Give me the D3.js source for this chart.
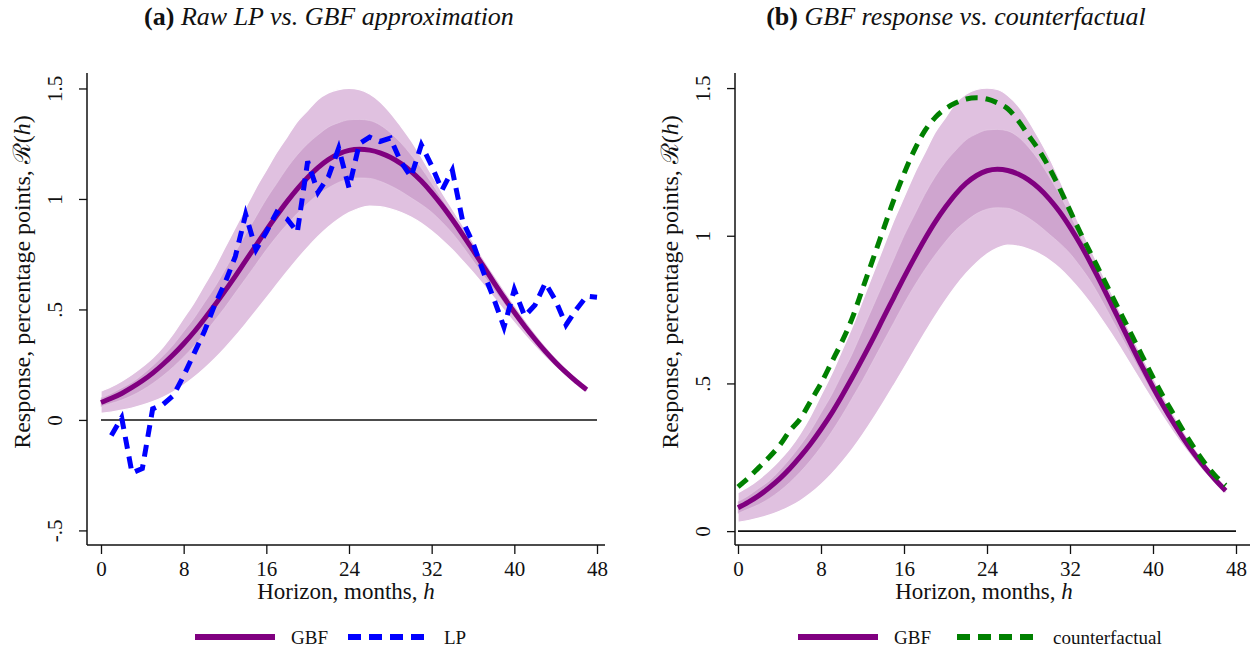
<!DOCTYPE html>
<html>
<head>
<meta charset="utf-8">
<script src="https://cdn.jsdelivr.net/npm/d3@7/dist/d3.min.js"></script>
<style>
  body { margin: 0; background: #fff; }
  text { font-family: "Liberation Serif", "DejaVu Serif", serif; fill: #111; }
</style>
</head>
<body>
<script>
// horizons
var hGBF = d3.range(0, 48);      // 0..47
var hLP = d3.range(1, 49);       // 1..48

// GBF point estimate
var gbf = [0.079, 0.098, 0.120, 0.147, 0.177, 0.212, 0.252, 0.296, 0.345, 0.398,
           0.457, 0.519, 0.584, 0.651, 0.721, 0.790, 0.859, 0.925, 0.988, 1.046,
           1.097, 1.142, 1.178, 1.204, 1.220, 1.225, 1.221, 1.209, 1.189, 1.161,
           1.125, 1.081, 1.029, 0.971, 0.907, 0.839, 0.768, 0.696, 0.624, 0.554,
           0.487, 0.424, 0.365, 0.310, 0.260, 0.215, 0.174, 0.137];

// bands: outer and inner
var outerHi = [0.13, 0.15, 0.175, 0.205, 0.24, 0.28, 0.33, 0.39, 0.46, 0.53,
               0.61, 0.69, 0.78, 0.87, 0.96, 1.05, 1.13, 1.21, 1.28, 1.35,
               1.40, 1.45, 1.48, 1.495, 1.50, 1.495, 1.475, 1.44, 1.39, 1.33,
               1.265, 1.19, 1.11, 1.03, 0.955, 0.88, 0.805, 0.73, 0.658, 0.588,
               0.52, 0.455, 0.393, 0.335, 0.282, 0.233, 0.19, 0.153];
var innerHi = [0.10, 0.12, 0.145, 0.17, 0.205, 0.245, 0.29, 0.34, 0.40, 0.46,
               0.53, 0.60, 0.68, 0.76, 0.84, 0.92, 1.00, 1.07, 1.14, 1.20,
               1.25, 1.29, 1.325, 1.345, 1.358, 1.36, 1.355, 1.335, 1.30, 1.255,
               1.20, 1.14, 1.072, 1.00, 0.93, 0.86, 0.787, 0.714, 0.642, 0.572,
               0.504, 0.44, 0.38, 0.323, 0.271, 0.224, 0.182, 0.145];
var innerLo = [0.06, 0.075, 0.09, 0.11, 0.135, 0.165, 0.20, 0.24, 0.285, 0.335,
               0.39, 0.45, 0.51, 0.575, 0.64, 0.705, 0.77, 0.83, 0.885, 0.935,
               0.98, 1.02, 1.05, 1.075, 1.09, 1.095, 1.093, 1.08, 1.06, 1.035,
               1.005, 0.975, 0.94, 0.895, 0.845, 0.785, 0.72, 0.655, 0.59, 0.526,
               0.464, 0.405, 0.349, 0.297, 0.25, 0.206, 0.167, 0.131];
var outerLo = [0.03, 0.036, 0.044, 0.054, 0.067, 0.083, 0.103, 0.128, 0.158, 0.193,
               0.233, 0.277, 0.326, 0.379, 0.435, 0.493, 0.552, 0.612, 0.671, 0.728,
               0.781, 0.83, 0.873, 0.909, 0.938, 0.958, 0.968, 0.965, 0.955, 0.94,
               0.918, 0.89, 0.855, 0.815, 0.77, 0.72, 0.668, 0.612, 0.555, 0.497,
               0.44, 0.385, 0.333, 0.284, 0.239, 0.197, 0.16, 0.125];

// raw local projection, h = 1..48
var lp = [-0.07, 0.01, -0.24, -0.22, 0.05, 0.07, 0.11, 0.20, 0.30, 0.40,
          0.52, 0.62, 0.74, 0.93, 0.77, 0.85, 0.94, 0.91, 0.85, 1.17,
          1.03, 1.10, 1.23, 1.05, 1.25, 1.28, 1.26, 1.275, 1.17, 1.10,
          1.245, 1.15, 1.04, 1.13, 0.90, 0.80, 0.67, 0.55, 0.42, 0.59,
          0.47, 0.52, 0.62, 0.54, 0.43, 0.50, 0.56, 0.555];

// counterfactual, h = 0..47
var cf = [0.15, 0.18, 0.215, 0.25, 0.29, 0.34, 0.38, 0.44, 0.50, 0.57,
          0.64, 0.72, 0.82, 0.92, 1.02, 1.12, 1.21, 1.29, 1.355, 1.40,
          1.43, 1.45, 1.463, 1.467, 1.463, 1.45, 1.43, 1.39, 1.34, 1.29,
          1.23, 1.16, 1.085, 1.01, 0.94, 0.87, 0.80, 0.73, 0.66, 0.59,
          0.52, 0.455, 0.395, 0.335, 0.28, 0.23, 0.188, 0.155];

var xTicks = [0, 8, 16, 24, 32, 40, 48];
var yTicksA = [-0.5, 0, 0.5, 1, 1.5];
var yTicksB = [0, 0.5, 1, 1.5];

var W = 1257, H = 652;
var svg = d3.select("body").append("svg").attr("width", W).attr("height", H);

var purple = "#800080", outerCol = "#e0c1e0", innerCol = "#cfa5cf";

function fmt(v) {
  if (v === 0) return "0";
  return String(v).replace(/^0\./, ".").replace(/^-0\./, "-.");
}

function panel(opt) {
  var x = d3.scaleLinear().domain([0, 48]).range([opt.x0, opt.x1]);
  var y = d3.scaleLinear().domain(opt.ydom).range([545, 73]);
  var g = svg.append("g");

  var bandData = hGBF.map(function(h, i) {
    return {h: h, oh: outerHi[i], ih: innerHi[i], il: innerLo[i], ol: outerLo[i]};
  });

  var outer = d3.area().x(function(d) { return x(d.h); })
      .y0(function(d) { return y(d.ol); }).y1(function(d) { return y(d.oh); })
      .curve(d3.curveMonotoneX);
  var inner = d3.area().x(function(d) { return x(d.h); })
      .y0(function(d) { return y(d.il); }).y1(function(d) { return y(d.ih); })
      .curve(d3.curveMonotoneX);

  g.append("path").datum(bandData).attr("d", outer)
      .attr("fill", outerCol).attr("stroke", "#fff").attr("stroke-width", 1.2);
  g.append("path").datum(bandData).attr("d", inner)
      .attr("fill", innerCol).attr("stroke", "#e6cfe6").attr("stroke-width", 0.6);

  // zero line
  g.append("line").attr("x1", x(0)).attr("x2", x(48)).attr("y1", y(0)).attr("y2", y(0))
      .attr("stroke", "#111").attr("stroke-width", 1.6);

  var line = d3.line().x(function(d) { return x(d[0]); }).y(function(d) { return y(d[1]); });

  g.append("path").datum(hGBF.map(function(h, i) { return [h, gbf[i]]; }))
      .attr("d", line.curve(d3.curveMonotoneX))
      .attr("fill", "none").attr("stroke", purple).attr("stroke-width", 5);

  g.append("path").datum(opt.over.h.map(function(h, i) { return [h, opt.over.v[i]]; }))
      .attr("d", line.curve(opt.over.curve))
      .attr("fill", "none").attr("stroke", opt.over.color).attr("stroke-width", 5)
      .attr("stroke-dasharray", "12,8");

  // axes
  var ax = g.append("g").attr("transform", "translate(0,545)")
      .call(d3.axisBottom(x).tickValues(xTicks).tickSize(9).tickPadding(7).tickSizeOuter(0));
  ax.select(".domain").attr("d", "M" + opt.ax0 + ",0H" + opt.ax1);
  var ay = g.append("g").attr("transform", "translate(" + opt.ax0 + ",0)")
      .call(d3.axisLeft(y).tickValues(opt.yticks).tickFormat(fmt).tickSize(8).tickSizeOuter(0));
  ay.select(".domain").attr("d", "M0,73V545");
  [ax, ay].forEach(function(a) {
    a.selectAll("line").attr("stroke", "#111").attr("stroke-width", 1.3);
    a.select(".domain").attr("stroke", "#111").attr("stroke-width", 1.5);
    a.selectAll("text").style("font-size", "21px").attr("fill", "#111")
      .style("font-family", "Liberation Serif, serif");
  });
  ay.selectAll(".tick text")
      .attr("transform", "rotate(-90)")
      .attr("x", 0).attr("y", -25).attr("dy", 0)
      .attr("text-anchor", "middle");

  // axis titles
  var xt = g.append("text").attr("x", (opt.x0 + opt.x1) / 2 - 3).attr("y", 599)
      .attr("text-anchor", "middle").style("font-size", "23px");
  xt.append("tspan").text("Horizon, months, ");
  xt.append("tspan").style("font-style", "italic").text("h");

  var yt = g.append("text")
      .attr("transform", "translate(" + (opt.ax0 - 57) + ",282) rotate(-90)")
      .attr("text-anchor", "middle").style("font-size", "24px");
  yt.append("tspan").text("Response, percentage points, ");
  yt.append("tspan").text("\u211B(");
  yt.append("tspan").style("font-style", "italic").text("h");
  yt.append("tspan").text(")");

  // title
  var tt = g.append("text").attr("x", opt.tx).attr("y", 25)
      .attr("text-anchor", "middle").style("font-size", "26px");
  tt.append("tspan").style("font-weight", "bold").text(opt.tag + " ");
  tt.append("tspan").style("font-style", "italic").text(opt.title);

  // legend
  var lg = g.append("g");
  opt.legend.forEach(function(L) {
    lg.append("line").attr("x1", L.x).attr("x2", L.x + 80).attr("y1", 637).attr("y2", 637)
        .attr("stroke", L.color).attr("stroke-width", 6)
        .attr("stroke-dasharray", L.dash ? "13,8" : null);
    lg.append("text").attr("x", L.x + 96).attr("y", 644).style("font-size", "19px").text(L.label);
  });
}

panel({
  x0: 101, x1: 597, ax0: 87, ax1: 605, ydom: [-0.566, 1.570], yticks: yTicksA,
  tx: 329, tag: "(a)", title: "Raw LP vs. GBF approximation",
  over: {h: hLP, v: lp, color: "#0000ff", curve: d3.curveLinear},
  legend: [{x: 195, color: purple, label: "GBF"}, {x: 348, color: "#0000ff", label: "LP", dash: true}]
});

panel({
  x0: 738, x1: 1236, ax0: 735, ax1: 1250, ydom: [-0.047, 1.551], yticks: yTicksB,
  tx: 956, tag: "(b)", title: "GBF response vs. counterfactual",
  over: {h: hGBF, v: cf, color: "#008000", curve: d3.curveMonotoneX},
  legend: [{x: 798, color: purple, label: "GBF"}, {x: 957, color: "#008000", label: "counterfactual", dash: true}]
});
</script>
</body>
</html>
